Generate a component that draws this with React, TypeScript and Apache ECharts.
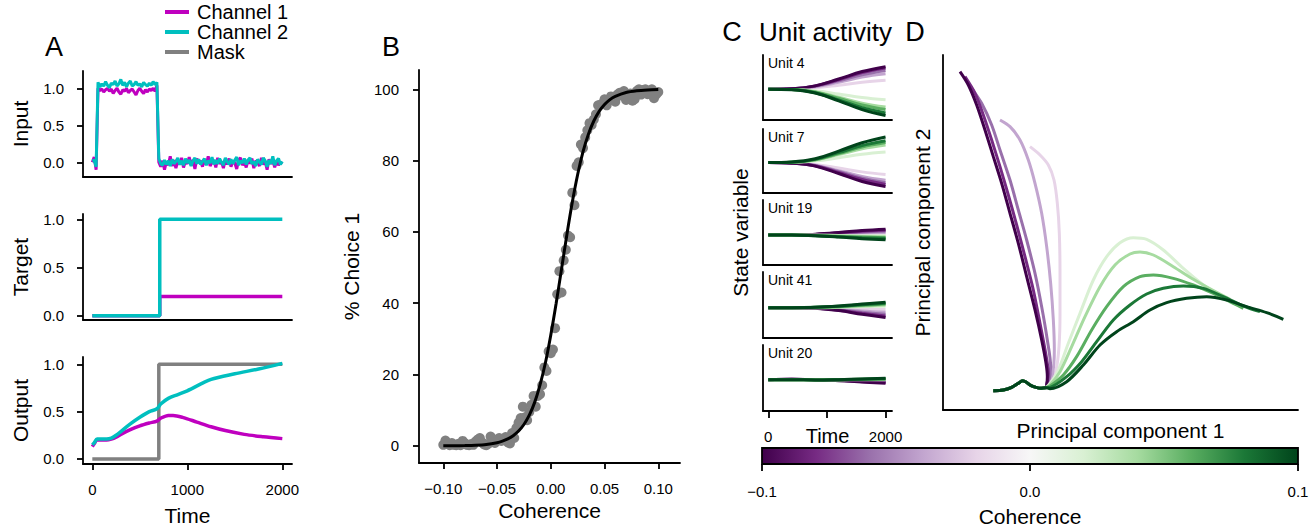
import React, { useEffect, useRef } from 'react';
import * as echarts from 'echarts';

const FONT = '"Liberation Sans", Arial, Helvetica, sans-serif';
const MAG = '#bf00bf';
const CYAN = '#00bfbf';
const GRAY = '#808080';

// ---------- Panel A : inputs (sampled every 20 time steps) ----------
const INPUT_STEP = 20;
const inputPre1 = [0.0, 0.07, -0.1];
const inputPre2 = [0.02, 0.03, -0.06];
const inputOn1 = [
  1.0, 0.97, 0.99, 0.95, 0.98, 1.0, 0.96, 0.99, 0.93, 0.97,
  1.0, 0.95, 0.92, 0.98, 0.96, 1.0, 0.94, 0.97, 0.99, 0.95,
  0.91, 0.97, 1.0, 0.96, 0.93, 0.98, 0.95, 0.99, 0.97, 1.0,
  0.96, 1.04,
];
const inputOn2 = [
  1.08, 1.02, 1.06, 1.03, 1.09, 1.04, 1.01, 1.07, 1.05, 1.1,
  1.03, 1.06, 1.12, 1.04, 1.08, 1.02, 1.07, 1.1, 1.03, 1.05,
  1.09, 1.04, 1.06, 1.02, 1.08, 1.05, 1.03, 1.07, 1.04, 1.09,
  1.05, 1.08,
];
const inputOff1 = [
  0.0, -0.06, 0.02, -0.1, 0.01, -0.04, 0.08, -0.05, 0.03, -0.08,
  0.02, -0.03, 0.06, -0.07, 0.01, -0.02, 0.07, -0.04, 0.03, -0.09,
  0.05, -0.01, 0.02, -0.06, 0.04, -0.03, 0.08, -0.05, 0.0, 0.03,
  -0.07, 0.06, -0.02, 0.01, -0.08, 0.04, -0.03, 0.05, -0.06, 0.02,
  -0.01, -0.09, 0.03, 0.06, -0.04, 0.01, -0.07, 0.04, -0.02, 0.05,
  -0.08, 0.02, 0.0, -0.05, 0.06, -0.03, 0.01, -0.1, 0.04, -0.02,
  0.03, -0.07, 0.02, -0.04, 0.0, -0.02,
];
const inputOff2 = [
  0.05, -0.02, -0.04, 0.03, -0.03, 0.02, -0.05, 0.04, -0.02, 0.01,
  0.06, -0.03, 0.02, -0.04, 0.05, -0.01, 0.03, -0.05, 0.02, 0.06,
  -0.02, 0.04, -0.03, 0.01, 0.05, -0.04, 0.02, -0.01, 0.07, -0.03,
  0.03, -0.02, 0.05, 0.0, -0.04, 0.06, 0.01, -0.03, 0.04, -0.02,
  0.03, 0.07, -0.04, 0.02, -0.01, 0.05, -0.03, 0.03, 0.06, -0.02,
  0.01, -0.05, 0.04, 0.0, -0.03, 0.06, 0.02, -0.06, 0.03, -0.02,
  0.08, -0.04, 0.02, 0.05, -0.03, 0.01,
];

// ---------- Panel A : target / output ----------
const targetCh1 = [[0, 0], [710, 0], [710, 0.2], [2000, 0.2]];
const targetCh2 = [[0, 0], [710, 0], [710, 1], [2000, 1]];
const outputMask = [[0, 0], [700, 0], [700, 1], [2000, 1]];
const outputCh1 = [
  [0, 0.13], [20, 0.16], [50, 0.2], [100, 0.2], [150, 0.2], [200, 0.21], [250, 0.23],
  [300, 0.26], [400, 0.31], [500, 0.35], [600, 0.38], [680, 0.4], [720, 0.43], [800, 0.46],
  [850, 0.46], [950, 0.44], [1100, 0.39], [1250, 0.34], [1400, 0.3], [1600, 0.26],
  [1800, 0.235], [2000, 0.215],
];
const outputCh2 = [
  [0, 0.15], [20, 0.17], [50, 0.21], [100, 0.21], [150, 0.21], [200, 0.22], [250, 0.25],
  [300, 0.29], [400, 0.37], [500, 0.44], [600, 0.5], [680, 0.53], [720, 0.58], [800, 0.64],
  [900, 0.68], [1000, 0.72], [1250, 0.84], [1500, 0.9], [1750, 0.95], [2000, 1.01],
];
const timeTicksA = [0, 1000, 2000];
const unitTicksA = [0, 0.5, 1];

// ---------- Panel B ----------
const coherenceTicks = [-0.1, -0.05, 0, 0.05, 0.1];
const choiceTicks = [0, 20, 40, 60, 80, 100];
const choicePoints = [
  [-0.1, 0.3], [-0.098, 1.5], [-0.096, 0.5], [-0.094, 0.2], [-0.092, 0.8], [-0.09, 0.3],
  [-0.088, 0.2], [-0.086, 0.6], [-0.084, 0.2], [-0.082, 1.4], [-0.08, 0.8], [-0.078, 0.3],
  [-0.076, 0.2], [-0.074, 0.5], [-0.072, 0.3], [-0.07, 1.2], [-0.068, 1.8], [-0.066, 2.2],
  [-0.064, 1.0], [-0.062, 0.4], [-0.06, 0.2], [-0.058, 0.6], [-0.056, 2.6], [-0.054, 1.9],
  [-0.052, 0.8], [-0.05, 1.5], [-0.048, 2.2], [-0.046, 1.4], [-0.044, 1.8], [-0.042, 2.5],
  [-0.04, 1.0], [-0.038, 0.7], [-0.036, 3.6], [-0.034, 2.2], [-0.032, 5.0], [-0.03, 6.5],
  [-0.028, 7.8], [-0.026, 11.0], [-0.024, 8.0], [-0.022, 7.2], [-0.02, 9.5], [-0.018, 11.5],
  [-0.016, 14.0], [-0.014, 11.0], [-0.012, 14.0], [-0.01, 14.5], [-0.008, 17.0], [-0.006, 22.0],
  [-0.004, 21.0], [-0.002, 26.5], [0.0, 26.0], [0.002, 27.0], [0.004, 33.0], [0.006, 42.5],
  [0.008, 49.0], [0.01, 43.0], [0.012, 52.0], [0.014, 55.0], [0.016, 59.0], [0.018, 58.5],
  [0.02, 71.0], [0.022, 67.5], [0.024, 78.5], [0.026, 79.5], [0.028, 84.5], [0.03, 83.5],
  [0.032, 86.5], [0.034, 88.5], [0.036, 90.5], [0.038, 90.0], [0.04, 91.5], [0.042, 93.0],
  [0.044, 95.5], [0.046, 95.6], [0.048, 96.0], [0.05, 97.2], [0.052, 95.5], [0.054, 96.8],
  [0.056, 98.0], [0.058, 97.0], [0.06, 96.5], [0.062, 98.5], [0.064, 99.0], [0.066, 98.2],
  [0.068, 99.5], [0.07, 97.0], [0.072, 97.5], [0.074, 98.8], [0.076, 96.8], [0.078, 97.2],
  [0.08, 99.5], [0.082, 100.0], [0.084, 98.5], [0.086, 99.8], [0.088, 100.0], [0.09, 98.6],
  [0.092, 99.5], [0.094, 100.0], [0.096, 97.5], [0.098, 98.5], [0.1, 99.2],
];
const fitPoints = [
  [-0.1, 0.02], [-0.09, 0.04], [-0.08, 0.09], [-0.07, 0.19], [-0.06, 0.41], [-0.05, 0.9],
  [-0.045, 1.33], [-0.04, 1.94], [-0.035, 2.85], [-0.03, 4.15], [-0.025, 6.0], [-0.02, 8.6],
  [-0.015, 12.2], [-0.01, 17.1], [-0.005, 23.3], [0.0, 31.1], [0.005, 40.0], [0.01, 49.6],
  [0.015, 59.3], [0.02, 68.3], [0.025, 76.1], [0.03, 82.5], [0.035, 87.4], [0.04, 91.1],
  [0.045, 93.8], [0.05, 95.7], [0.055, 97.1], [0.06, 98.0], [0.07, 99.07], [0.08, 99.57],
  [0.09, 99.8], [0.1, 99.91],
];

// ---------- Panel C ----------
const coherenceLevels = [-0.1, -0.08, -0.06, -0.04, -0.02, 0.02, 0.04, 0.06, 0.08, 0.1];
const levelColors = ['#40004b', '#762a83', '#9970ab', '#c2a5cf', '#e7d4e8', '#d9f0d3', '#a6dba0', '#5aae61', '#1b7837', '#00441b'];
const drawOrder = [4, 3, 2, 1, 0, 5, 6, 7, 8, 9];
const unitTimes = [0, 400, 800, 1200, 1600, 2000];
const unitNames = ['Unit 4', 'Unit 7', 'Unit 19', 'Unit 41', 'Unit 20'];
const unit4 = [
  [-0.05, -0.04, 0.05, 0.26, 0.49, 0.64],
  [-0.05, -0.04, 0.05, 0.24, 0.46, 0.6],
  [-0.05, -0.04, 0.04, 0.21, 0.39, 0.52],
  [-0.05, -0.04, 0.02, 0.16, 0.32, 0.42],
  [-0.05, -0.04, -0.01, 0.07, 0.16, 0.22],
  [-0.05, -0.06, -0.1, -0.2, -0.31, -0.38],
  [-0.05, -0.06, -0.13, -0.3, -0.48, -0.6],
  [-0.05, -0.06, -0.14, -0.33, -0.54, -0.68],
  [-0.05, -0.06, -0.16, -0.38, -0.62, -0.78],
  [-0.05, -0.07, -0.17, -0.41, -0.68, -0.86],
];
const unit7 = [
  [-0.05, -0.07, -0.16, -0.39, -0.64, -0.8],
  [-0.05, -0.06, -0.15, -0.36, -0.58, -0.73],
  [-0.05, -0.06, -0.14, -0.33, -0.54, -0.68],
  [-0.05, -0.06, -0.13, -0.3, -0.48, -0.6],
  [-0.05, -0.06, -0.11, -0.22, -0.34, -0.42],
  [-0.05, -0.04, 0.0, 0.1, 0.21, 0.28],
  [-0.05, -0.04, 0.03, 0.2, 0.38, 0.5],
  [-0.05, -0.04, 0.04, 0.23, 0.44, 0.58],
  [-0.05, -0.04, 0.05, 0.26, 0.48, 0.63],
  [-0.05, -0.03, 0.07, 0.31, 0.57, 0.75],
];
const unit19 = [
  [-0.08, -0.08, -0.05, 0.0, 0.06, 0.1],
  [-0.08, -0.08, -0.06, -0.01, 0.04, 0.07],
  [-0.08, -0.08, -0.06, -0.03, 0.01, 0.04],
  [-0.08, -0.08, -0.07, -0.04, -0.02, 0.0],
  [-0.08, -0.08, -0.07, -0.06, -0.05, -0.04],
  [-0.08, -0.08, -0.08, -0.09, -0.1, -0.1],
  [-0.08, -0.08, -0.09, -0.1, -0.12, -0.13],
  [-0.08, -0.08, -0.09, -0.12, -0.14, -0.16],
  [-0.08, -0.08, -0.1, -0.13, -0.16, -0.18],
  [-0.08, -0.08, -0.1, -0.14, -0.19, -0.22],
];
const unit41 = [
  [-0.08, -0.08, -0.1, -0.17, -0.28, -0.38],
  [-0.08, -0.08, -0.1, -0.16, -0.25, -0.33],
  [-0.08, -0.08, -0.09, -0.14, -0.22, -0.28],
  [-0.08, -0.08, -0.09, -0.12, -0.18, -0.22],
  [-0.08, -0.08, -0.08, -0.1, -0.12, -0.14],
  [-0.08, -0.08, -0.08, -0.07, -0.05, -0.04],
  [-0.08, -0.08, -0.08, -0.06, -0.03, 0.0],
  [-0.08, -0.08, -0.07, -0.05, -0.01, 0.03],
  [-0.08, -0.08, -0.07, -0.04, 0.01, 0.05],
  [-0.08, -0.08, -0.07, -0.03, 0.03, 0.08],
];
const unit20 = [
  [-0.05, -0.04, -0.05, -0.08, -0.12, -0.16],
  [-0.05, -0.04, -0.05, -0.07, -0.11, -0.14],
  [-0.05, -0.04, -0.05, -0.07, -0.1, -0.12],
  [-0.05, -0.045, -0.05, -0.06, -0.08, -0.1],
  [-0.05, -0.05, -0.05, -0.06, -0.07, -0.08],
  [-0.05, -0.05, -0.05, -0.05, -0.05, -0.05],
  [-0.05, -0.05, -0.055, -0.05, -0.045, -0.04],
  [-0.05, -0.05, -0.06, -0.05, -0.04, -0.03],
  [-0.05, -0.05, -0.06, -0.05, -0.035, -0.02],
  [-0.05, -0.05, -0.06, -0.05, -0.03, -0.01],
];
const unitData = [unit4, unit7, unit19, unit41, unit20];

// ---------- Panel D (PC1, PC2; arbitrary units) ----------
const pcStart = [
  [28.0, 5.8], [31.0, 6.0], [33.5, 6.8], [35.5, 8.0], [36.8, 8.8], [37.8, 8.4],
  [39.2, 7.4], [40.8, 6.8], [42.2, 6.5], [43.6, 6.7],
];
const trajN10 = [[44.0, 7.5], [44.2, 10.0], [43.8, 14.0], [42.5, 21.0], [40.5, 30.0], [38.0, 40.0], [35.5, 50.0], [33.0, 59.0], [30.5, 68.0], [28.0, 76.0], [25.5, 84.0], [23.0, 91.5], [20.5, 97.5], [18.0, 101.5]];
const trajN08 = [[44.0, 7.5], [44.5, 11.0], [43.7, 17.0], [42.0, 26.0], [40.0, 36.0], [37.5, 46.0], [35.0, 55.5], [32.5, 64.5], [30.0, 73.0], [27.5, 81.0], [25.0, 88.5], [22.5, 95.0], [19.5, 100.0]];
const trajN06 = [[44.5, 8.0], [45.2, 13.0], [44.2, 21.0], [42.5, 31.0], [40.5, 41.0], [38.0, 51.0], [35.5, 60.0], [33.0, 69.0], [30.0, 78.0], [27.5, 85.5], [24.5, 92.0], [21.5, 96.5]];
const trajN04 = [[44.5, 7.5], [45.8, 11.0], [46.3, 18.0], [46.0, 27.0], [45.2, 38.0], [44.0, 49.0], [42.5, 59.0], [40.5, 68.0], [38.5, 75.0], [36.0, 81.0], [33.0, 85.0], [30.0, 87.0]];
const trajN02 = [[45.0, 8.0], [46.8, 12.0], [47.7, 19.0], [48.0, 29.0], [48.0, 41.0], [47.8, 53.0], [47.2, 62.0], [46.2, 69.0], [44.5, 73.5], [42.0, 76.5], [39.0, 79.0]];
const trajP02 = [[45.0, 8.0], [47.5, 12.0], [50.5, 20.0], [54.0, 29.0], [58.0, 39.0], [62.0, 46.0], [66.0, 50.2], [70.0, 51.7], [74.0, 51.2], [79.0, 48.0], [85.0, 42.5], [91.0, 37.5], [93.5, 35.8]];
const trajP04 = [[45.0, 7.5], [48.0, 11.5], [51.5, 19.0], [55.5, 28.0], [60.0, 37.0], [64.5, 43.5], [69.0, 46.8], [72.0, 47.4], [76.0, 46.5], [82.0, 43.0], [88.0, 39.2], [94.0, 35.8], [99.0, 33.2]];
const trajP06 = [[45.0, 7.2], [49.0, 10.5], [53.0, 16.0], [57.5, 24.0], [62.0, 31.0], [67.0, 37.0], [72.0, 40.0], [76.0, 40.5], [82.0, 39.5], [88.0, 37.5], [94.0, 35.0], [100.0, 32.0], [103.0, 30.5]];
const trajP08 = [[45.0, 6.8], [50.0, 10.0], [54.5, 14.5], [59.0, 20.5], [64.0, 27.0], [69.0, 31.5], [74.0, 34.8], [79.0, 36.5], [85.0, 37.2], [91.0, 36.5], [97.0, 34.0], [103.0, 31.2], [108.0, 29.5]];
const trajP10 = [[45.0, 6.4], [50.0, 8.5], [55.0, 13.5], [60.0, 19.5], [65.0, 23.5], [70.0, 26.5], [75.0, 30.0], [80.0, 32.2], [86.0, 33.5], [92.0, 34.0], [98.0, 33.0], [104.0, 31.0], [110.0, 29.2], [115.0, 27.2]];
const pcTrajectories = [trajN10, trajN08, trajN06, trajN04, trajN02, trajP02, trajP04, trajP06, trajP08, trajP10];

// ---------- Colorbar ----------
const prgnStops = ['#40004b', '#762a83', '#9970ab', '#c2a5cf', '#e7d4e8', '#f7f7f7', '#d9f0d3', '#a6dba0', '#5aae61', '#1b7837', '#00441b'];

const fmtMinus = (v: number, d: number) => (v < -1e-9 ? '\u2212' : '') + Math.abs(v).toFixed(d);
const fmtInt = (v: number) => String(Math.round(v));

const AX = { color: '#000', width: 1.8 };
const nameStyle = { fontSize: 21, fontFamily: FONT, color: '#000' };
const tickFont = { fontSize: 15, fontFamily: FONT, color: '#000' };

function plainAxis(extra: any) {
  return {
    type: 'value',
    nameMoveOverlap: false,
    axisLine: { show: true, onZero: false, lineStyle: AX },
    axisTick: { show: false },
    axisLabel: { show: false },
    splitLine: { show: false },
    ...extra,
  };
}

function buildOption() {
  const inputSeries1: number[][] = [];
  const inputSeries2: number[][] = [];
  const all1 = inputPre1.concat(inputOn1, inputOff1);
  const all2 = inputPre2.concat(inputOn2, inputOff2);
  all1.forEach((v, i) => inputSeries1.push([i * INPUT_STEP, v]));
  all2.forEach((v, i) => inputSeries2.push([i * INPUT_STEP, v]));

  const g = (left: number, top: number, width: number, height: number, extra: any = {}) => ({
    left, top, width, height, containLabel: false, outerBoundsMode: 'none', ...extra,
  });

  const grids: any[] = [
    g(83, 71, 209, 106), // 0 A input
    g(83, 214, 209, 106), // 1 A target
    g(83, 357, 209, 107), // 2 A output
    g(419, 70, 261, 393), // 3 B
    g(763, 55, 129, 65), // 4 C unit 4
    g(763, 129, 129, 64), // 5 C unit 7
    g(763, 200, 129, 65), // 6 C unit 19
    g(763, 272, 129, 66), // 7 C unit 41
    g(763, 345, 129, 66), // 8 C unit 20
    g(943, 55, 355, 355), // 9 D
    g(762, 448, 536, 16, {
      show: true,
      borderColor: '#000',
      borderWidth: 1.8,
      backgroundColor: new echarts.graphic.LinearGradient(0, 0, 1, 0,
        prgnStops.map((c, i) => ({ offset: i / (prgnStops.length - 1), color: c }))),
    }), // 10 colorbar
  ];

  const aY = (gi: number, min: number, max: number, name: string) => plainAxis({
    gridIndex: gi, min, max, name, nameLocation: 'middle', nameGap: 52, nameTextStyle: nameStyle,
    axisTick: { show: true, length: 6, customValues: unitTicksA, lineStyle: AX },
    axisLabel: { show: true, customValues: unitTicksA, formatter: (v: number) => v.toFixed(1), margin: 19, ...tickFont },
  });

  const xAxes: any[] = [
    plainAxis({ gridIndex: 0, min: -98, max: 2102 }),
    plainAxis({ gridIndex: 1, min: -98, max: 2102 }),
    plainAxis({
      gridIndex: 2, min: -98, max: 2102, name: 'Time', nameLocation: 'middle', nameGap: 41, nameTextStyle: nameStyle,
      axisTick: { show: true, length: 6, customValues: timeTicksA, lineStyle: AX },
      axisLabel: { show: true, customValues: timeTicksA, formatter: fmtInt, margin: 18, ...tickFont },
    }),
    plainAxis({
      gridIndex: 3, min: -0.1226, max: 0.1202, name: 'Coherence', nameLocation: 'middle', nameGap: 37, nameTextStyle: nameStyle,
      axisTick: { show: true, length: 6, customValues: coherenceTicks, lineStyle: AX },
      axisLabel: { show: true, customValues: coherenceTicks, formatter: (v: number) => fmtMinus(v, 2), margin: 18, ...tickFont },
    }),
  ];
  const yAxes: any[] = [
    aY(0, -0.199, 1.234, 'Input'),
    aY(1, -0.045, 1.055, 'Target'),
    aY(2, -0.053, 1.077, 'Output'),
    plainAxis({
      gridIndex: 3, min: -4.8, max: 105.4, name: '% Choice 1', nameLocation: 'middle', nameGap: 57, nameTextStyle: nameStyle,
      axisTick: { show: true, length: 6, customValues: choiceTicks, lineStyle: AX },
      axisLabel: { show: true, customValues: choiceTicks, formatter: fmtInt, margin: 20, ...tickFont },
    }),
  ];
  for (let u = 0; u < 5; u++) {
    const gi = 4 + u;
    if (u === 4) {
      xAxes.push(plainAxis({
        gridIndex: gi, min: -90, max: 2110, name: 'Time', nameLocation: 'middle', nameGap: 15, nameTextStyle: { ...nameStyle, fontSize: 20 },
        axisTick: { show: true, length: 7, customValues: [0, 1000, 2000], lineStyle: AX },
        axisLabel: { show: true, customValues: [0, 2000], formatter: fmtInt, margin: 18, ...tickFont },
      }));
    } else {
      xAxes.push(plainAxis({ gridIndex: gi, min: -90, max: 2110 }));
    }
    if (u === 2) {
      yAxes.push(plainAxis({ gridIndex: gi, min: -1, max: 1, name: 'State variable', nameLocation: 'middle', nameGap: 12, nameTextStyle: nameStyle }));
    } else {
      yAxes.push(plainAxis({ gridIndex: gi, min: -1, max: 1 }));
    }
  }
  // D
  xAxes.push(plainAxis({ gridIndex: 9, min: 12.9, max: 119.4, name: 'Principal component 1', nameLocation: 'middle', nameGap: 10, nameTextStyle: nameStyle }));
  yAxes.push(plainAxis({ gridIndex: 9, min: 0, max: 106.5, name: 'Principal component 2', nameLocation: 'middle', nameGap: 10, nameTextStyle: nameStyle }));
  // colorbar
  xAxes.push({
    type: 'value', gridIndex: 10, min: -0.1, max: 0.1, interval: 0.1,
    name: 'Coherence', nameLocation: 'middle', nameGap: 42, nameTextStyle: nameStyle, nameMoveOverlap: false,
    axisLine: { show: false, onZero: false },
    axisTick: { show: true, length: 7, lineStyle: AX },
    axisLabel: { show: true, formatter: (v: number) => fmtMinus(v, 1), margin: 20, ...tickFont },
    splitLine: { show: false },
  });
  yAxes.push({ type: 'value', gridIndex: 10, min: 0, max: 1, show: false });

  const lineS = (name: string | undefined, xi: number, data: any[], color: string, width: number, extra: any = {}) => ({
    type: 'line', name, xAxisIndex: xi, yAxisIndex: xi, data, showSymbol: false, symbol: 'none',
    lineStyle: { color, width }, itemStyle: { color }, color, silent: true, ...extra,
  });

  const series: any[] = [
    lineS('Channel 1', 0, inputSeries1, MAG, 3),
    lineS('Channel 2', 0, inputSeries2, CYAN, 3),
    lineS('Channel 1', 1, targetCh1, MAG, 3.5),
    lineS('Channel 2', 1, targetCh2, CYAN, 3.5),
    lineS('Mask', 2, outputMask, GRAY, 3.5),
    lineS('Channel 1', 2, outputCh1, MAG, 3.5, { smooth: 0.3 }),
    lineS('Channel 2', 2, outputCh2, CYAN, 3.5, { smooth: 0.3 }),
    {
      type: 'scatter', xAxisIndex: 3, yAxisIndex: 3, data: choicePoints, symbolSize: 10,
      itemStyle: { color: GRAY, opacity: 1 }, silent: true,
    },
    lineS(undefined, 3, fitPoints, '#000', 3, { smooth: 0.3 }),
  ];
  for (let u = 0; u < 5; u++) {
    drawOrder.forEach((k) => {
      const data = unitTimes.map((t, i) => [t, unitData[u][k][i]]);
      series.push(lineS(undefined, 4 + u, data, levelColors[k], 3, { smooth: 0.4 }));
    });
  }
  drawOrder.forEach((k) => {
    series.push(lineS(undefined, 9, pcStart.concat(pcTrajectories[k]), levelColors[k], 3, { smooth: 0.3 }));
  });
  series.push({ type: 'line', xAxisIndex: 10, yAxisIndex: 10, data: [], silent: true });

  const txt = (text: string, x: number, y: number, size: number, align = 'center') => ({
    type: 'text', x, y, silent: true,
    style: { text, fontSize: size, fontFamily: FONT, fill: '#000', align, verticalAlign: 'middle' },
  });

  const graphic: any[] = [
    txt('A', 54, 47, 27),
    txt('B', 391, 47, 27),
    txt('C', 732, 32, 27),
    txt('Unit activity', 759, 32, 26, 'left'),
    txt('D', 915, 32, 27),
  ];
  unitNames.forEach((n, u) => {
    graphic.push(txt(n, 768, grids[4 + u].top + 8, 14, 'left'));
  });

  return {
    animation: false,
    backgroundColor: '#fff',
    textStyle: { fontFamily: FONT },
    grid: grids,
    xAxis: xAxes,
    yAxis: yAxes,
    series,
    graphic,
    legend: {
      show: true, orient: 'vertical', left: 165, top: 2, padding: 0,
      itemWidth: 24, itemHeight: 4, itemGap: 0, icon: 'rect', selectedMode: false,
      data: ['Channel 1', 'Channel 2', 'Mask'],
      textStyle: { fontSize: 20, fontFamily: FONT, color: '#000', lineHeight: 19, padding: [0, 0, 0, 3] },
    },
  };
}

export default function App() {
  const ref = useRef<HTMLDivElement>(null);
  useEffect(() => {
    if (!ref.current) return;
    const chart = echarts.init(ref.current, undefined, { renderer: 'svg' });
    chart.setOption(buildOption() as any);
    return () => chart.dispose();
  }, []);
  return (
    <div
      ref={ref}
      style={{ position: 'absolute', left: 0, top: 0, width: 1315, height: 529, background: '#fff' }}
    />
  );
}
